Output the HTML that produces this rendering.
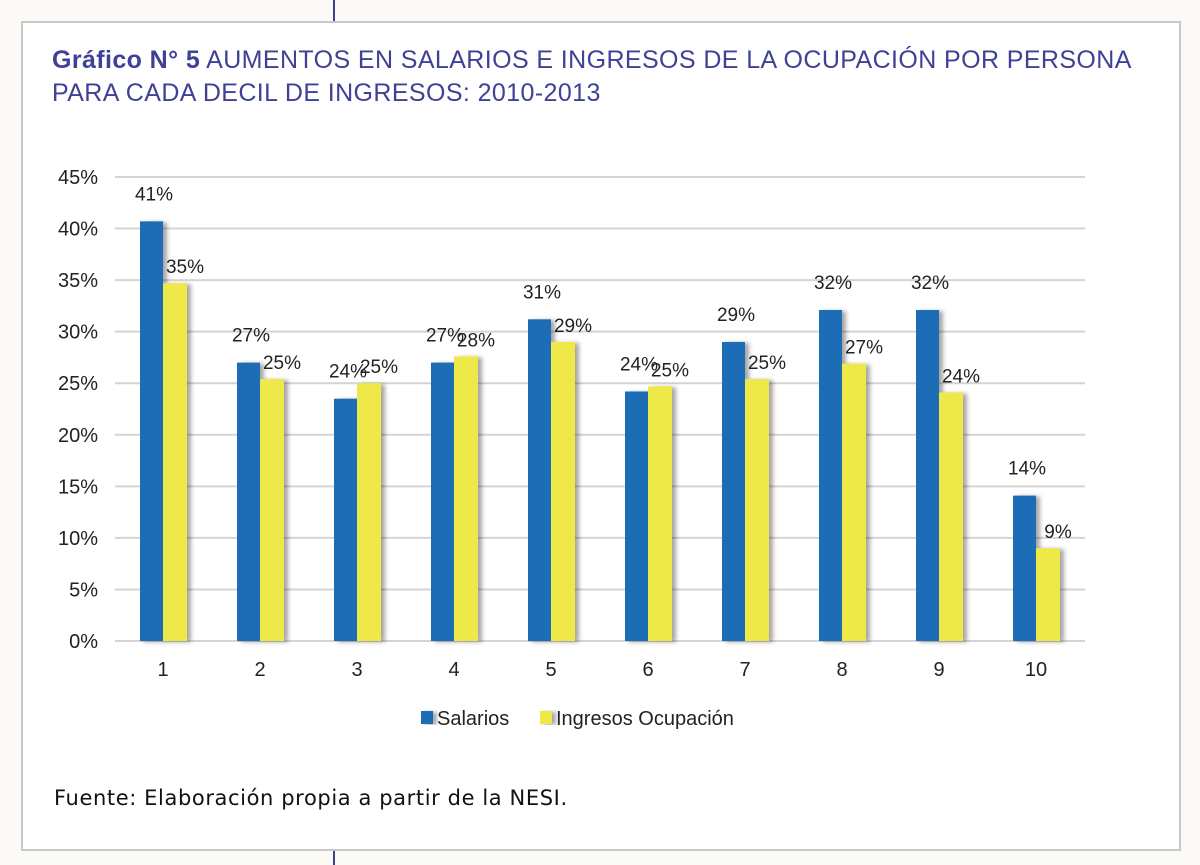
<!DOCTYPE html>
<html><head><meta charset="utf-8"><style>
body{margin:0;background:#fbfaf6;width:1200px;height:865px;position:relative;overflow:hidden;font-family:"Liberation Sans",sans-serif}
#frame{position:absolute;left:21px;top:21px;width:1156px;height:826px;border:2px solid #c8c8c8;background:#fff}
.tick{position:absolute;width:2px;background:#3d3f8f}
#title{position:absolute;left:52px;top:44px;color:#3f4196;font-size:25px;line-height:33px;letter-spacing:0.4px}
#src{position:absolute;left:54px;top:786px;font-family:"DejaVu Sans",sans-serif;font-size:21px;letter-spacing:0.6px;color:#111}
</style></head><body>
<div class="tick" style="left:333px;top:0;height:21px"></div>
<div class="tick" style="left:333px;top:849px;height:16px"></div>
<div id="frame"></div>
<div id="title"><b>Gráfico N° 5</b> AUMENTOS EN SALARIOS E INGRESOS DE LA OCUPACIÓN POR PERSONA<br>PARA CADA DECIL DE INGRESOS: 2010-2013</div>
<svg id="chart" width="1200" height="865" style="position:absolute;left:0;top:0" font-family="Liberation Sans, sans-serif">
<defs><filter id="sh" x="-20%" y="-5%" width="160%" height="110%"><feDropShadow dx="4" dy="1" stdDeviation="2" flood-color="#000" flood-opacity="0.35"/></filter></defs>
</svg>
<div id="src">Fuente: Elaboración propia a partir de la NESI.</div>
<script>
const categories=["1","2","3","4","5","6","7","8","9","10"];
const salarios=[40.7,27.0,23.5,27.0,31.2,24.2,29.0,32.1,32.1,14.1];
const ingresos=[34.7,25.4,25.0,27.6,29.0,24.7,25.4,26.9,24.1,9.0];
const salLabels=["41%","27%","24%","27%","31%","24%","29%","32%","32%","14%"];
const ingLabels=["35%","25%","25%","28%","29%","25%","25%","27%","24%","9%"];
const yTicks=[0,5,10,15,20,25,30,35,40,45];
const svg=document.getElementById('chart');const NS='http://www.w3.org/2000/svg';
const y0=641,yTop=177,yMax=45,x0=115,x1=1085,step=97,c0=163,bw=23;
const y=v=>y0-(v/yMax)*(y0-yTop);
const xc=i=>c0+i*step;
function mk(t,a){const e=document.createElementNS(NS,t);for(const k in a)e.setAttribute(k,a[k]);svg.appendChild(e);return e;}
yTicks.forEach(t=>{
 const g=mk('line',{x1:x0,x2:x1,y1:y(t),y2:y(t),stroke:'#d4d4d4','stroke-width':2});
 
 
 const l=mk('text',{x:98,y:y(t)+7,'text-anchor':'end','font-size':20,fill:'#222'});l.textContent=t+'%';
 
 
});
categories.forEach((c,i)=>{
 const b=mk('rect',{x:xc(i)-bw,y:y(salarios[i]),width:bw,height:y0-y(salarios[i]),fill:'#1f6db5',filter:'url(#sh)'});
 
 
 const b2=mk('rect',{x:xc(i),y:y(ingresos[i]),width:bw+1,height:y0-y(ingresos[i]),fill:'#eee84a',filter:'url(#sh)'});
 
 
 const t1=mk('text',{x:xc(i)-9,y:y(salarios[i])-21,'text-anchor':'middle','font-size':19,fill:'#222'});t1.textContent=salLabels[i];
 
 
 const t2=mk('text',{x:xc(i)+22,y:y(ingresos[i])-10,'text-anchor':'middle','font-size':19,fill:'#222'});t2.textContent=ingLabels[i];
 
 
 const xl=mk('text',{x:xc(i),y:676,'text-anchor':'middle','font-size':20,fill:'#222'});xl.textContent=c;
 
 
});
const legend=[["Salarios","#1f6db5",421],["Ingresos Ocupación","#eee84a",540]];
legend.forEach(([n,col,x])=>{
 const r=mk('rect',{x:x,y:711,width:12,height:13,fill:col,filter:'url(#sh)'});
 
 
 const t=mk('text',{x:x+16,y:725,'font-size':20,fill:'#222'});t.textContent=n;
 
 
});
</script>
</body></html>
